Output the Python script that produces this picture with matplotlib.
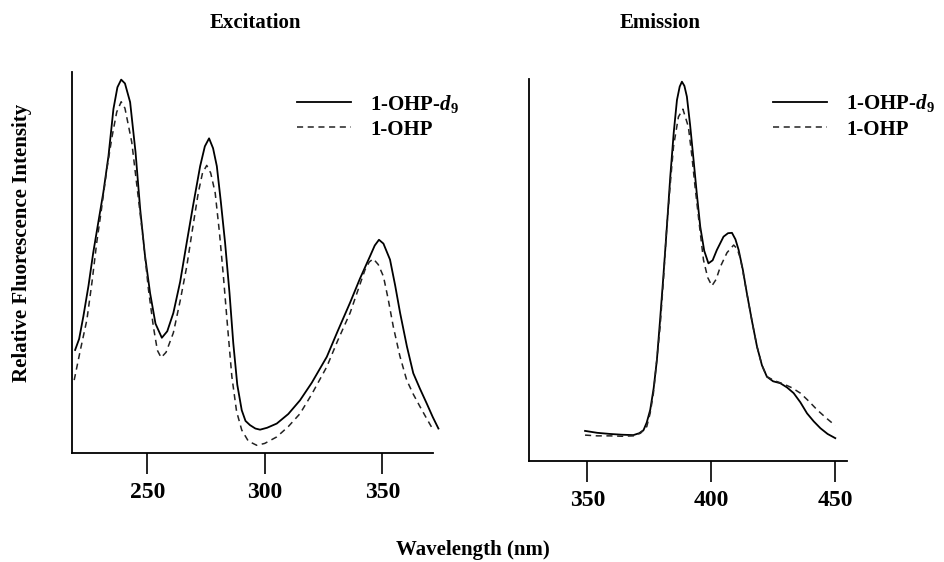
import matplotlib
matplotlib.use("Agg")
import matplotlib.pyplot as plt

plt.rcParams["font.family"] = ["Liberation Serif", "DejaVu Serif"]
plt.rcParams["font.weight"] = "bold"
plt.rcParams["mathtext.fontset"] = "custom"
plt.rcParams["mathtext.rm"] = "Liberation Serif:bold"
plt.rcParams["mathtext.it"] = "Liberation Serif:italic:bold"

# Excitation spectra (wavelength nm, relative intensity)
exc_x_d9 = [219.3, 221, 222.8, 225, 227, 229, 231.3, 233.5, 235.6, 237.3, 238.9, 240.5,
            242.7, 245, 247, 249, 251.2, 253.5, 256.2, 258.5, 261.1, 264, 266.8, 269.5,
            272.5, 274.5, 276.3, 278, 279.6, 281.3, 283.1, 285, 286.6, 288.3, 290.2, 291.8,
            293.7, 296, 298, 301, 305.1, 310, 315, 320, 326.4, 331, 336.3, 340.5, 344.8,
            346.8, 348.6, 350.5, 353.3, 355.5, 357.6, 360.5, 363.2, 366, 368.9, 371.5, 373.9]
exc_y_d9 = [27.1, 30, 35.9, 44, 52.6, 60, 68.4, 78, 90.3, 96, 98.0, 97,
            92.1, 79, 63.9, 52, 42, 34, 30.3, 32, 36.8, 45, 55.3, 65,
            75.3, 80.5, 82.6, 80, 75.3, 66, 55.3, 42, 28.9, 18, 11.3, 8.5,
            7.4, 6.5, 6.2, 6.7, 7.8, 10.3, 13.9, 18.5, 25.3, 32, 39.5, 45.8, 51.7,
            54.5, 56, 55, 50.8, 44, 36.8, 28, 21, 17, 13.1, 9.5, 6.5]

exc_x_h = [218.9, 221.5, 224.3, 226.5, 228.5, 230.5, 232.8, 235, 237, 238.9, 240.5, 243.4,
           246, 248.4, 250.5, 252.6, 254.3, 255.9, 258, 261.1, 264, 266.8, 269.3, 271.7,
           273.5, 275.3, 277, 278.9, 280.7, 282.4, 284.2, 286, 288, 290.2, 293, 296.6,
           300, 305.1, 310, 315, 320, 326.4, 331, 336.3, 339.5, 342.7, 344.5, 346.2,
           348.3, 350.5, 352.5, 354.7, 357.5, 360.4, 363.2, 366.1, 369, 371.7]
exc_y_h = [19.2, 27, 35, 45, 55.3, 64, 74.5, 83, 89.5, 92.2, 90.5, 81.6,
           68, 55.3, 43, 33.2, 27, 25.1, 26.5, 31.6, 40, 49, 59, 68.3,
           73.5, 75.5, 73.5, 68.3, 58, 46.4, 33, 20.1, 11, 6.1, 3.2, 2.1,
           2.6, 4.3, 7, 10.4, 15.5, 22.7, 29.5, 36.8, 42.5, 48.2, 50.2, 51,
           49.5, 46.4, 40.5, 33.2, 25.5, 19.2, 15.5, 12.2, 9, 6.1]

# Emission spectra
emi_x_d9 = [349.1, 354, 359.2, 364, 368.6, 371, 372.7, 374, 375.4, 376.8, 378.1, 379.4,
            380.7, 382.1, 383.5, 384.9, 386.2, 387.3, 388.2, 389.2, 390.2, 391.5, 392.9,
            394.2, 395.6, 397.2, 398.9, 400.6, 402.3, 405, 406.8, 408.4, 409.8, 411.1,
            412.8, 414.4, 416.5, 418.5, 420.5, 422.5, 425, 427.9, 430.6, 433.3, 436,
            438.7, 441.4, 444.1, 447, 450.1]
emi_y_d9 = [7.8, 7.3, 7.0, 6.8, 6.7, 7.2, 8.0, 10, 13.3, 19, 26.4, 37,
            48.2, 61, 74.4, 86, 94.5, 98, 99.3, 98.2, 95.4, 88, 78.8,
            70, 61.3, 55, 51.7, 52.5, 55.2, 58.7, 59.6, 59.7, 58, 55.2,
            50, 43.9, 36.5, 29.9, 25, 22.0, 20.8, 20.3, 19.2, 17.7, 15.3,
            12.4, 10.3, 8.5, 7.0, 5.9]

emi_x_h = [349.1, 354, 359.2, 364, 368.6, 371.5, 374, 375.4, 376.7, 378, 379.4, 380.8,
           382.1, 383.5, 384.8, 386.8, 388.6, 390.8, 392.2, 393.5, 395.2, 396.9, 398.6,
           400.3, 402, 403.7, 406.4, 409.1, 410.5, 411.8, 413.1, 414.4, 416.5, 418.5,
           420.5, 422.5, 425.8, 429.2, 432.6, 436, 439.4, 442.8, 446.4, 450.1]
emi_y_h = [6.7, 6.5, 6.5, 6.4, 6.5, 7.2, 8.9, 12.5, 17.7, 26, 35.1, 48,
           61.3, 72.5, 82.3, 90.1, 92.1, 87.5, 80, 71.8, 62, 52.6, 48,
           45.8, 47.5, 50.8, 54.5, 56.5, 55.5, 53, 48.5, 43.9, 36.5, 29.9,
           25, 22.0, 20.9, 20.1, 19.1, 17.7, 15.6, 13.3, 11.2, 9.2]

label_d9 = r"1-OHP-$d_{9}$"
label_h = "1-OHP"

fig = plt.figure(figsize=(9.44, 5.62), dpi=100)
ax1 = fig.add_axes([0.0766, 0.1934, 0.3821, 0.6785])
ax2 = fig.add_axes([0.5607, 0.1803, 0.3362, 0.6791])

panels = [
    (ax1, exc_x_d9, exc_y_d9, exc_x_h, exc_y_h, (218.1, 371.6), [250, 300, 350], (0.623, 0.946)),
    (ax2, emi_x_d9, emi_y_d9, emi_x_h, emi_y_h, (326.6, 454.7), [350, 400, 450], (0.768, 0.965)),
]

for ax, xs, ys, xh, yh, xlim, ticks, lpos in panels:
    ax.plot(xs, ys, color="black", lw=1.3, label=label_d9, clip_on=False)
    ax.plot(xh, yh, color="#222222", lw=1.1, ls=(0, (4, 3)), label=label_h, clip_on=False)
    ax.set_xlim(*xlim)
    ax.set_ylim(0, 100)
    ax.set_xticks(ticks)
    ax.set_yticks([])
    ax.spines["top"].set_visible(False)
    ax.spines["right"].set_visible(False)
    for s in ("left", "bottom"):
        ax.spines[s].set_linewidth(1.3)
    ax.tick_params(axis="x", direction="out", length=15, width=1.2, pad=6,
                   labelsize=17)
    for lab in ax.get_xticklabels():
        lab.set_fontweight("bold")
    ax.legend(loc="upper left", bbox_to_anchor=lpos, frameon=False, fontsize=15,
              handlelength=2.6, handletextpad=0.9, labelspacing=0.25,
              borderpad=0, borderaxespad=0)

fig.text(255 / 944, 1 - 23 / 562, "Excitation", ha="center", va="center",
         fontsize=15, fontweight="bold")
fig.text(660 / 944, 1 - 23 / 562, "Emission", ha="center", va="center",
         fontsize=15, fontweight="bold")
fig.text(473 / 944, 1 - 550 / 562, "Wavelength (nm)", ha="center", va="center",
         fontsize=15, fontweight="bold")
fig.text(22 / 944, 1 - 243 / 562, "Relative Fluorescence Intensity", ha="center",
         va="center", rotation=90, fontsize=15, fontweight="bold")

fig.savefig("out.png", dpi=100)
